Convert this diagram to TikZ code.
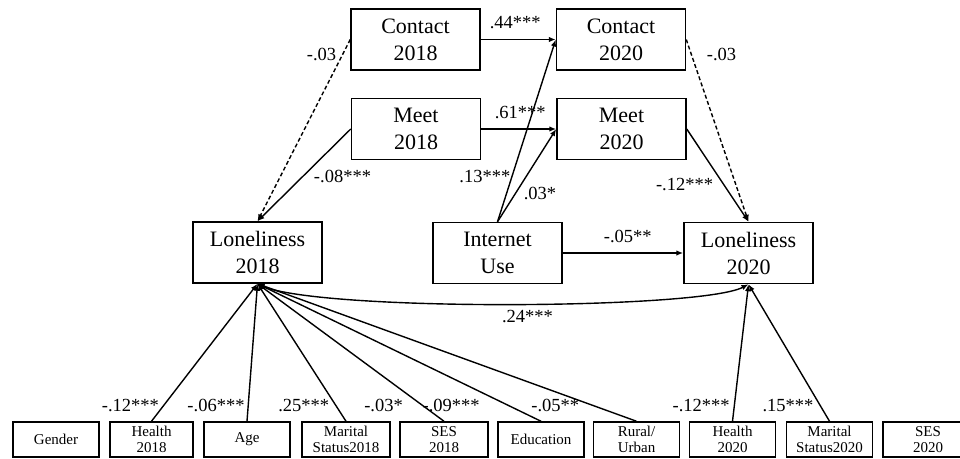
\documentclass[tikz,border=0pt]{standalone}
\usepackage{fontspec}
\setmainfont{Liberation Serif}
\usetikzlibrary{arrows.meta}

\begin{document}
\begin{tikzpicture}[x=1pt,y=-1pt]
  \useasboundingbox (0,0) rectangle (960,458);

      \begin{scope}[every node/.style={draw, line width=1.5pt, minimum width=129pt, minimum height=61pt, inner sep=0pt, align=center, font=\fontsize{22}{27}\selectfont}]
        \node (c18) at (415.5,39.5) {Contact\\2018};
        \node (m18) at (416,129)    {Meet\\2018};
        \node (c20) at (621,39.5)   {Contact\\2020};
        \node (m20) at (621.5,129)  {Meet\\2020};
        \node (l18) at (257.5,252.5) {Loneliness\\2018};
        \node (net) at (497.5,253)  {Internet\\Use};
        \node (l20) at (748.5,253)  {Loneliness\\2020};
      \end{scope}

      \begin{scope}[every node/.style={draw, line width=1.5pt, minimum width=86pt, minimum height=35pt, inner sep=0pt, align=center, font=\fontsize{15}{16}\selectfont}]
        \node (gen)   at (56,439.5)    {Gender};
        \node (hlt18) at (151.5,439.5) [minimum width=83pt] {Health\\2018};
        \node (age)   at (247,439.5)   {Age};
        \node (mar18) at (346,439.5)   [minimum width=88pt] {Marital\\Status2018};
        \node (ses18) at (444,439.5)   [minimum width=88pt] {SES\\2018};
        \node (edu)   at (541,439.5)   {Education};
        \node (rur)   at (636.5,439.5) {Rural/\\Urban};
        \node (hlt20) at (732.5,439.5) {Health\\2020};
        \node (mar20) at (829.5,439.5) {Marital\\Status2020};
        \node (ses20) at (928,439.5)   [minimum width=90pt] {SES\\2020};
      \end{scope}

      \begin{scope}[every node/.style={font=\fontsize{18.5}{20}\selectfont, inner sep=1pt}]

        \begin{scope}[every edge/.style={draw, line width=1.4pt, -{Latex[length=7pt,width=5.5pt]}}]
          \path (c18) edge node[pos=.46, above=9pt] {.44***} (c20);
          \path (m18) edge node[pos=.52, above=9pt] {.61***} (m20);
          \path (net.north) edge node[pos=.25, left] {.13***} (c20.west);
          \path (net.north) edge node[pos=.3, right=7pt] {.03*} (m20.west);
          \path (c18.west) edge[dash pattern=on 4pt off 2.5pt] node[pos=.08, left=5pt] {-.03} (l18.north);
          \path (m18.west) edge node[pos=.52, right=10pt] {-.08***} (l18.north);
          \path (c20.east) edge[dash pattern=on 4pt off 2.5pt] node[pos=.08, right=14pt] {-.03} (l20.north);
          \path (m20.east) edge node[pos=.6, left=9pt] {-.12***} (l20.north);
          \path (net) edge node[pos=.54, above=9pt] {-.05**} (l20);

          \path (hlt18.north) edge node[pos=.115, left=3pt] {-.12***} (l18.south);
          \path (age.north)   edge node[pos=.115, left=2pt] {-.06***} (l18.south);
          \path (mar18.north) edge node[pos=.115, left=5pt] {.25***} (l18.south);
          \path (ses18.north) edge node[pos=.115, left=18pt] {-.03*} (l18.south);
          \path (edu.north)   edge node[pos=.115, left=27pt] {-.09***} (l18.south);
          \path (rur.north)   edge node[pos=.115, left=12pt] {-.05**} (l18.south);
          \path (hlt20.north) edge node[pos=.115, left=3pt] {-.12***} (l20.south);
          \path (mar20.north) edge node[pos=.115, left=5pt] {.15***} (l20.south);
        \end{scope}

        \draw[line width=1.4pt, -{Latex[length=7pt,width=5.5pt]}] (l18.south) .. controls (300,312) and (700,310) .. node[pos=.54, below=4pt] {.24***} (l20.south);
      \end{scope}

    \end{tikzpicture}
\end{document}
